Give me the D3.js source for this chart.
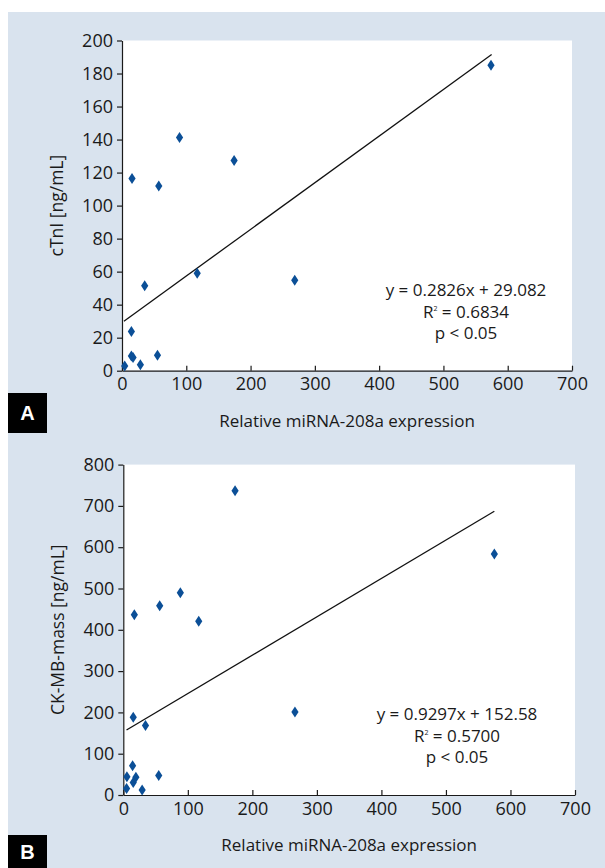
<!DOCTYPE html>
<html>
<head>
<meta charset="utf-8">
<script src="https://cdn.jsdelivr.net/npm/d3@7"></script>
<style>
  body { margin: 0; background: #fff; }
  text { font-family: "Open Sans", "Noto Sans", sans-serif; fill: #1a1a1a; }
</style>
</head>
<body>
<div id="chart"></div>
<script>
// panel A: cTnI vs miRNA-208a
const exprA = [574, 89.5, 174.4, 15.6, 57.2, 117, 268.7, 35.3, 14.6, 14.6, 17.2, 55.2, 28.6, 4.2];
const ctniA = [185, 141.2, 127.3, 116.4, 111.9, 59, 54.8, 51.5, 23.7, 8.9, 8.0, 9.3, 3.6, 2.8];
const fitA = [0.2826, 29.082];
const fitRangeA = [3, 575];
const yTicksA = [0, 20, 40, 60, 80, 100, 120, 140, 160, 180, 200];
const statsA = ["y = 0.2826x + 29.082", "0.6834", "p < 0.05"];

// panel B: CK-MB-mass vs miRNA-208a
const exprB = [575, 173.2, 88.4, 56.4, 17.1, 116.9, 266, 15.4, 34.4, 14.4, 5.6, 19.5, 15.4, 54.9, 5.1, 29.2];
const ckmbB = [583.5, 736.8, 489.8, 458, 436.6, 420.6, 201, 188, 168, 71, 44, 43, 30, 47, 16, 12];
const fitB = [0.9297, 152.58];
const fitRangeB = [5, 575];
const yTicksB = [0, 100, 200, 300, 400, 500, 600, 700, 800];
const statsB = ["y = 0.9297x + 152.58", "0.5700", "p < 0.05"];

const xTicks = [0, 100, 200, 300, 400, 500, 600, 700];

let svg = d3.select("#chart").append("svg")
  .attr("width", 605).attr("height", 868);

svg.append("rect").attr("x", 8).attr("y", 12).attr("width", 597).attr("height", 856)
  .attr("fill", "#d9e3ee");

function panel(cfg) {
  let x = d3.scaleLinear().domain([0, 700]).range([cfg.left, cfg.right]);
  let y = d3.scaleLinear().domain([0, cfg.ymax]).range([cfg.bottom, cfg.top]);

  svg.append("rect")
    .attr("x", cfg.left).attr("y", cfg.top)
    .attr("width", cfg.right - cfg.left).attr("height", cfg.bottom - cfg.top)
    .attr("fill", "#fff");

  let ya = svg.append("g")
    .attr("transform", "translate(" + cfg.left + ",0)")
    .call(d3.axisLeft(y).tickValues(cfg.yTicks).tickSize(5).tickPadding(4).tickSizeOuter(0));
  let xa = svg.append("g")
    .attr("transform", "translate(0," + cfg.bottom + ")")
    .call(d3.axisBottom(x).tickValues(xTicks).tickSize(-5).tickPadding(7).tickSizeOuter(0));
  [ya, xa].forEach(a => {
    a.selectAll("path, line").attr("stroke", "#1a1a1a").attr("stroke-width", 1.2);
    a.selectAll("text").style("font-size", "18px").style("font-family", '"Open Sans", sans-serif').attr("fill", "#1a1a1a");
  });

  svg.append("line")
    .attr("x1", x(cfg.fitRange[0])).attr("y1", y(cfg.fit[0] * cfg.fitRange[0] + cfg.fit[1]))
    .attr("x2", x(cfg.fitRange[1])).attr("y2", y(cfg.fit[0] * cfg.fitRange[1] + cfg.fit[1]))
    .attr("stroke", "#111").attr("stroke-width", 1.3);

  svg.append("g").selectAll("path")
    .data(cfg.xs.map((v, i) => [v, cfg.ys[i]]))
    .enter().append("path")
    .attr("d", "M0,-5.5L3.6,0L0,5.5L-3.6,0Z")
    .attr("transform", d => "translate(" + x(d[0]) + "," + y(d[1]) + ")")
    .attr("fill", "#0b4f97");

  // regression stats, one text per line
  svg.append("text").attr("x", cfg.statX).attr("y", cfg.statY)
    .attr("text-anchor", "middle").style("font-size", "17px").text(cfg.stats[0]);
  let t2 = svg.append("text").attr("x", cfg.statX).attr("y", cfg.statY + 21.5)
    .attr("text-anchor", "middle").style("font-size", "17px");
  t2.append("tspan").text("R");
  t2.append("tspan").attr("dy", -7).style("font-size", "7px").text("2");
  t2.append("tspan").attr("dy", 7).text(" = " + cfg.stats[1]);
  svg.append("text").attr("x", cfg.statX).attr("y", cfg.statY + 43)
    .attr("text-anchor", "middle").style("font-size", "17px").text(cfg.stats[2]);

  svg.append("text")
    .attr("x", (cfg.left + cfg.right) / 2).attr("y", cfg.bottom + 56)
    .attr("text-anchor", "middle").style("font-size", "17px")
    .text("Relative miRNA-208a expression");

  svg.append("text")
    .attr("transform", "translate(" + (cfg.left - 59) + "," + ((cfg.top + cfg.bottom) / 2) + ") rotate(-90)")
    .attr("text-anchor", "middle").style("font-size", "17.5px")
    .text(cfg.ylabel);

  svg.append("rect").attr("x", 8).attr("y", cfg.tagY).attr("width", 39).attr("height", cfg.tagH).attr("fill", "#000");
  svg.append("text").attr("x", 27.5).attr("y", cfg.tagY + cfg.tagH / 2 + 7)
    .attr("text-anchor", "middle").style("font-size", "20px").style("font-weight", "bold")
    .style("font-family", '"Liberation Sans", Arial, sans-serif')
    .attr("fill", "#fff").style("fill", "#fff").text(cfg.tag);
}

panel({
  left: 122, right: 572, top: 40.5, bottom: 370.7, ymax: 200,
  yTicks: yTicksA, xs: exprA, ys: ctniA, fit: fitA, fitRange: fitRangeA,
  stats: statsA, statX: 466, statY: 296,
  ylabel: "cTnI [ng/mL]", tag: "A", tagY: 393, tagH: 40
});

panel({
  left: 123.3, right: 575, top: 464.6, bottom: 795, ymax: 800,
  yTicks: yTicksB, xs: exprB, ys: ckmbB, fit: fitB, fitRange: fitRangeB,
  stats: statsB, statX: 457, statY: 720,
  ylabel: "CK-MB-mass [ng/mL]", tag: "B", tagY: 835, tagH: 33
});
</script>
</body>
</html>
